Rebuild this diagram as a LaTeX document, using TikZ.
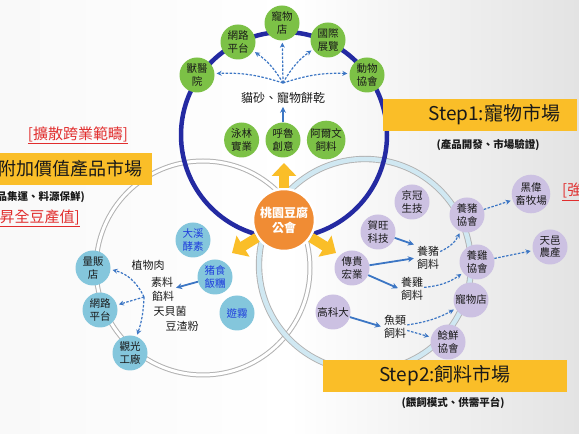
\documentclass[tikz,border=0pt]{standalone}
\usepackage{fontspec}
\setmainfont{Noto Sans CJK TC}
\usepackage{tikz}
\usetikzlibrary{arrows.meta,positioning}
\usepackage{xcolor}
\definecolor{ink}{RGB}{25,25,25}
\definecolor{rimblue}{RGB}{36,42,162}
\definecolor{leaf}{RGB}{124,193,70}
\definecolor{sky}{RGB}{132,198,220}
\definecolor{lav}{RGB}{204,193,226}
\definecolor{hubc}{RGB}{240,140,52}
\definecolor{gold}{RGB}{250,190,40}
\definecolor{flow}{RGB}{60,118,196}
\definecolor{mark}{RGB}{225,45,45}
\definecolor{tagb}{RGB}{30,60,220}
\definecolor{bandc}{RGB}{208,232,242}
\tikzset{
  leafn/.style={circle,fill=leaf,inner sep=0pt,minimum size=35pt,align=center,text=ink,
    font=\fontsize{10.5}{12.5}\selectfont},
  skyn/.style={leafn,fill=sky},
  lavn/.style={leafn,fill=lav},
  txt/.style={align=center,text=ink,inner sep=1pt,font=\fontsize{11}{13}\selectfont},
  bar/.style={fill=gold,minimum height=32pt,inner sep=0pt,text=ink,font=\fontsize{19}{21}\selectfont},
  sub/.style={text=ink,inner sep=1pt,font=\fontsize{10.5}{12}\selectfont\bfseries},
  tag/.style={text=mark,inner sep=1pt,font=\fontsize{15}{17}\selectfont},
  hubn/.style={circle,fill=hubc,draw=white,line width=2.5pt,minimum size=62pt,inner sep=0pt,
    align=center,text=white,font=\fontsize{12}{15}\selectfont\bfseries},
  arr/.style={-{Stealth[length=6pt,width=6pt]},line width=1.8pt,flow,shorten >=2pt},
  dsh/.style={-{Stealth[length=5pt,width=5pt]},line width=1.2pt,flow,
    dash pattern=on 2.5pt off 1.5pt,shorten >=2pt},
  push/.style={-{Triangle[length=13pt,width=24pt]},line width=10pt,gold},
  leftring/.style={gray!60,line width=1pt,double=white,double distance=3pt},
  rightring/.style={gray!60,line width=0.9pt,double=bandc,double distance=4.5pt},
}

\begin{document}
\begin{tikzpicture}[x=1pt,y=1pt,node distance=6pt]
\useasboundingbox (0,0) rectangle (579,434);
\shade[left color=gray!5,right color=gray!22,middle color=white] (0,0) rectangle (579,434);
\draw[leftring] (203,166) circle (107);
\draw[rightring] (365,169) circle (106);
\draw[rimblue,line width=4.5pt] (284,299) circle (103);

\node[leafn] (shopA) at (282,411) {寵物\\店};
\node[leafn] (webA) at (238,392) {網路\\平台};
\node[leafn] (expo) at (328,394) {國際\\展覽};
\node[leafn] (vet) at (197,359) {獸醫\\院};
\node[leafn] (assoc) at (367,359) {動物\\協會};
\node[txt,font=\fontsize{12}{14}\selectfont] (snack) at (283,336) {貓砂、寵物餅乾};
\node[leafn] (hulu) at (283,294) {呼魯\\創意};
\node[leafn,left=6pt of hulu] (yonglin) {泳林\\實業};
\node[leafn,right=6pt of hulu] (alvin) {阿爾文\\飼料};
\coordinate (fan) at (283,351);
\foreach \t/\b in {vet/-10,webA/-12,shopA/0,expo/12,assoc/10}
  \draw[dsh] (fan) to[bend left=\b] (\t);
\draw[arr] (hulu) -- (snack);

\node[bar,text width=160pt,align=right,inner xsep=17pt,anchor=west] (s1) at (383,319) {Step1:寵物市場};
\node[sub] (s1sub) at (488,289) {(產品開發、市場驗證)};

\node[tag] (t1) at (78,299) {\underline{[擴散跨業範疇]}};
\node[bar,text width=150pt,align=right,inner xsep=9pt,anchor=east,font=\fontsize{18}{20}\selectfont]
  (s3) at (152,265) {附加價值產品市場};
\node[sub,anchor=east] (s3sub) at (86,237) {(產品集運、料源保鮮)};
\node[tag,anchor=east] (t2) at (81,216) {\underline{[提昇全豆產值]}};
\node[tag,anchor=west] (t3) at (561,242) {\underline{[強}};

\node[bar,minimum width=244pt] (s2) at (445,58) {Step2:飼料市場};
\node[sub] (s2sub) at (453,31) {(餵飼模式、供需平台)};

\node[hubn] (hub) at (284,214) {桃園豆腐\\公會};
\coordinate (upT) at (284,271);
\coordinate (dlT) at (232,181);
\coordinate (drT) at (336,181);
\draw[push] (hub.north) -- (upT);
\draw[push] (hub.213) -- (dlT);
\draw[push] (hub.327) -- (drT);

\node[skyn] (mall) at (93,166) {量販\\店};
\node[skyn] (webB) at (100,124) {網路\\平台};
\node[skyn] (tour) at (130,81) {觀光\\工廠};
\node[skyn,text=tagb] (dx) at (193,194) {大溪\\酵素};
\node[skyn,text=tagb] (zs) at (215,157) {猪食\\飯糰};
\node[skyn,text=tagb] (yw) at (237,121) {遊霧};
\node[txt] (l1) at (148,169) {植物肉};
\node[txt] (l2) at (162,152) {素料};
\node[txt] (l3) at (163,138) {餡料};
\node[txt] (l4) at (170,123) {天貝菌};
\node[txt] (l5) at (182,108) {豆渣粉};
\draw[arr] (zs) -- (l2.south east);
\coordinate (fanB) at (144,137);
\draw[dsh] (fanB) to[bend right=25] (mall);
\draw[dsh] (fanB) -- (webB);
\draw[dsh] (fanB) to[bend left=8] (tour);

\node[lavn] (jg) at (412,232) {京冠\\生技};
\node[lavn] (hw) at (378,202) {賀旺\\科技};
\node[lavn] (cg) at (352,166) {傳貴\\宏業};
\node[lavn] (kuas) at (333,122) {高科大};
\node[lavn] (pigA) at (467,219) {養豬\\協會};
\node[lavn] (chkA) at (477,172) {養雞\\協會};
\node[lavn] (shopB) at (471,134) {寵物店};
\node[lavn] (fishA) at (448,92) {鯰鮮\\協會};
\node[lavn] (farm) at (531,240) {黑偉\\畜牧場};
\node[lavn] (tianyi) at (550,187) {天邑\\農產};
\node[txt] (pigF) at (428,176) {養豬\\飼料};
\node[txt] (chkF) at (412,145) {養雞\\飼料};
\node[txt] (fishF) at (395,107) {魚類\\飼料};
\draw[arr] (hw) -- (pigF.north west);
\draw[arr] (cg) -- (pigF.west);
\draw[arr] (cg) -- (chkF.west);
\draw[arr] (kuas) -- (fishF.west);
\draw[dsh] (pigF) to[bend right=20] (pigA);
\draw[dsh] (chkF) to[bend right=15] (chkA);
\draw[dsh] (fishF) to[bend right=10] (shopB);
\draw[dsh] (fishF) -- (fishA);
\draw[dsh] (pigA) -- (farm);
\draw[dsh] (chkA) -- (tianyi);
\end{tikzpicture}
\end{document}
